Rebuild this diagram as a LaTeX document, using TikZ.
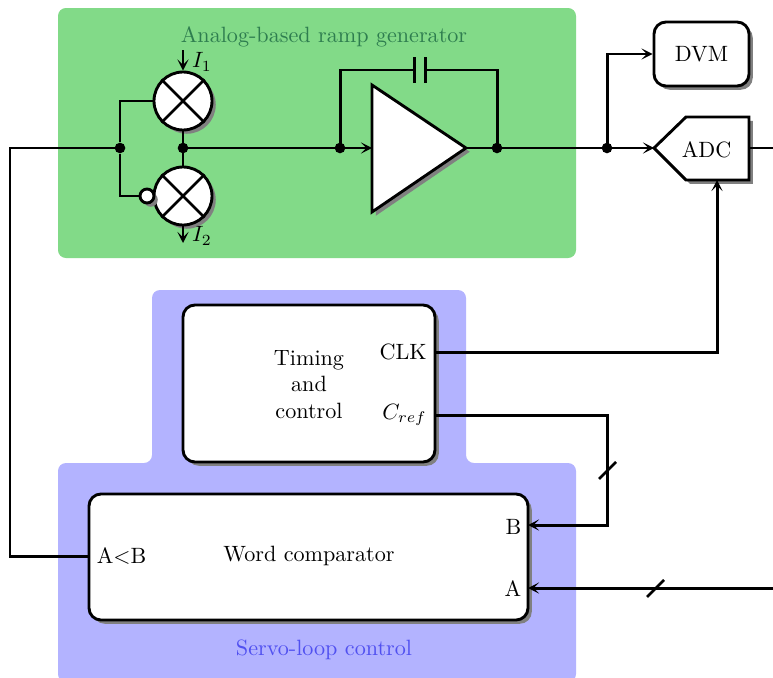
\documentclass[tikz,border=0pt]{standalone}
\usetikzlibrary{shadows,arrows.meta}
\definecolor{rampgreen}{HTML}{82DA88}
\definecolor{rampText}{HTML}{2E7D4F}
\definecolor{servoblue}{HTML}{B3B3FF}
\definecolor{servoText}{HTML}{5050F0}
\newlength{\pxu}
\setlength{\pxu}{0.4516pt}
\tikzset{
	>={Stealth[length=5pt,width=5pt,inset=2.4pt]},
	shade gray/.style={drop shadow={shadow xshift=1.7pt,shadow yshift=-1.7pt,fill=black!50,opacity=1}},
	blockbox/.style={draw,line width=1.3pt,fill=white,rounded corners=5.4pt,inner sep=0pt,shade gray},
	mixer/.style={draw,line width=1.3pt,fill=white,circle,inner sep=0pt,minimum size=58\pxu,shade gray},
	dotnode/.style={circle,fill=black,inner sep=0pt,minimum size=4.8pt},
	wire/.style={line width=1.35pt},
	thinwire/.style={line width=1.2pt},
}
\begin{document}
\begin{tikzpicture}[x=0.4516pt,y=-0.4516pt]
	\useasboundingbox (0,0) rectangle (773,677);
	% Hintergrund
	\fill[rampgreen,rounded corners=3.6pt] (58,8) rectangle (576,258);
	\fill[servoblue,rounded corners=3.6pt] (300,290) to (466,290) to (466,463) to (576,463) to (576,682) to (58,682) to (58,463) to (152,463) to (152,290) to (300,290);
	\node[rampText] (ramplabel) at (324,37) {Analog-based ramp generator};
	\node[servoText] (servolabel) at (324,650) {Servo-loop control};
	% Multiplizierer
	\node[mixer] (mixa) at (183,101) {};
	\node[mixer] (mixb) at (183,196) {};
	\draw[thinwire] (mixa.north west) to (mixa.south east);
	\draw[thinwire] (mixa.north east) to (mixa.south west);
	\draw[thinwire] (mixb.north west) to (mixb.south east);
	\draw[thinwire] (mixb.north east) to (mixb.south west);
	\node[draw,line width=1.3pt,fill=white,circle,inner sep=0pt,minimum size=14\pxu,shade gray] (invert) at (147,196) {};
	\coordinate (ia) at (183,50);
	\coordinate (ib) at (183,243);
	\node (ialabel) at (202,62) {$I_1$};
	\node (iblabel) at (202,236) {$I_2$};
	\draw[wire,->] (ia) to (mixa.north);
	\draw[wire,->] (mixb.south) to (ib);
	\draw[wire] (mixa.south) to (mixb.north);
	% Verstaerker
	\coordinate (ampa) at (372,85);
	\coordinate (ampb) at (372,212);
	\coordinate (ampc) at (466,148);
	\coordinate (ampd) at (372,148);
	\draw[line width=1.3pt,fill=white,shade gray] (ampa) to (ampc) to (ampb) to cycle;
	\coordinate (capa) at (414,70);
	\coordinate (capb) at (425,70);
	% DVM und ADC
	\node[blockbox,minimum width=95\pxu,minimum height=64\pxu] (dvm) at (701.5,54) {DVM};
	\coordinate (adcin) at (654,148);
	\coordinate (adcbot) at (717,180);
	\coordinate (adcout) at (749,148);
	\coordinate (rightend) at (773,148);
	\draw[line width=1.3pt,fill=white,shade gray] (adcin) to (686,117) to (749,117) to (749,180) to (686,180) to cycle;
	\node (adc) at (706.5,150) {ADC};
	% Steuerung
	\node[blockbox,minimum width=252\pxu,minimum height=157\pxu] (timing) at (309,383.5) {};
	\node[align=center] (timinglabel) at (309,384.5) {Timing\\and\\control};
	\node[anchor=east] (clk) at (434.5,352) {CLK};
	\node[anchor=east] (cref) at (434.5,415) {$C_{ref}$};
	\node[blockbox,minimum width=439\pxu,minimum height=126\pxu] (comp) at (308.5,557) {};
	\node (complabel) at (309,556) {Word comparator};
	\node[anchor=west] (altb) at (89,556) {A<B};
	\node[anchor=east] (portb) at (529,527) {B};
	\node[anchor=east] (porta) at (529,589) {A};
	% Verzweigungen
	\node[dotnode] (splitin) at (120,148) {};
	\node[dotnode] (mixout) at (183,148) {};
	\node[dotnode] (ampin) at (340,148) {};
	\node[dotnode] (ampout) at (497,148) {};
	\node[dotnode] (splitout) at (607,148) {};
	% Verbindungen
	\draw[wire] (splitin) |- (mixa.west);
	\draw[wire] (splitin) |- (invert.west);
	\draw[wire] (ampin.center) to ++(0,-78) to (capa);
	\draw[wire] (ampout.center) to ++(0,-78) to (capb);
	\draw[wire] (414,57) to (414,83);
	\draw[wire] (425,57) to (425,83);
	\draw[wire] (mixout.center) to (ampin.center);
	\draw[wire,->] (ampin.center) to (ampd);
	\draw[wire] (ampc) to (ampout.center);
	\draw[wire] (ampout.center) to (splitout.center);
	\draw[wire,->] (splitout.center) to (adcin);
	\draw[wire,->] (splitout.center) |- (dvm.west);
	\draw[wire] (adcout) to (rightend);
	\coordinate (farleft) at (10,148);
	\coordinate (farright) at (773,588);
	\coordinate (clkout) at (timing.east |- clk);
	\coordinate (crefout) at (timing.east |- cref);
	\coordinate (altbin) at (comp.west |- altb);
	\coordinate (bin) at (528,525);
	\coordinate (ain) at (528,588);
	\draw[wire] (splitin.center) to (farleft) |- (altbin);
	\draw[wire,->] (clkout) -| (adcbot);
	\draw[wire,->] (crefout) to (607,415) to (607,525) to (bin);
	\draw[wire,->] (farright) to (ain);
	\draw[thinwire] (599,479) to (616,462);
	\draw[thinwire] (647,597) to (664,580);
\end{tikzpicture}
\end{document}
